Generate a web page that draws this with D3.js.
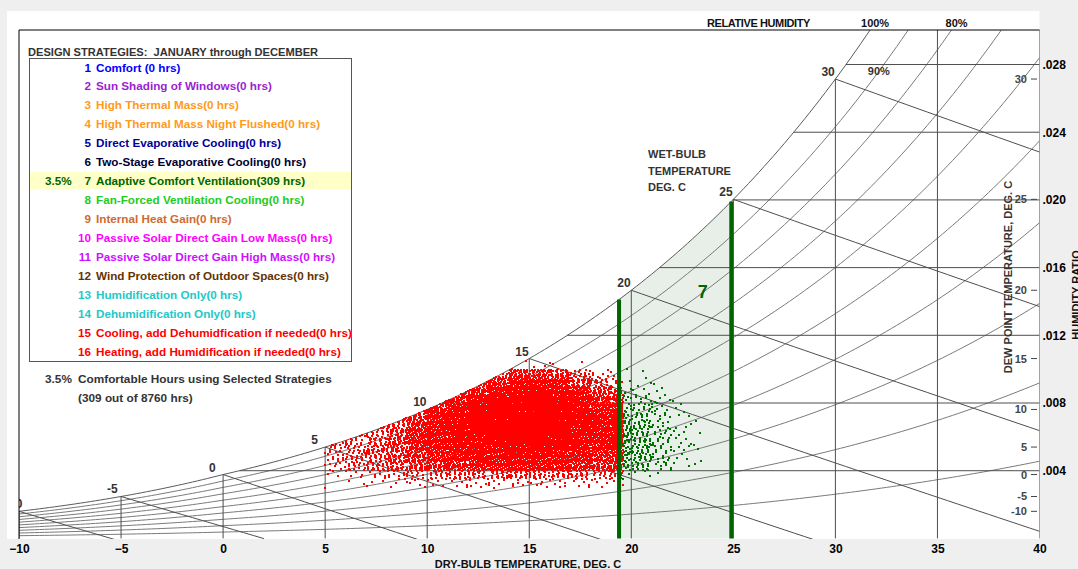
<!DOCTYPE html>
<html>
<head>
<meta charset="utf-8">
<script src="https://cdn.jsdelivr.net/npm/d3@7"></script>
<style>
  html, body { margin: 0; padding: 0; background: #efefef; }
  svg { display: block; font-family: "Liberation Sans", Arial, sans-serif; font-weight: bold; }
  text { white-space: pre; }
</style>
</head>
<body>
<svg id="chart" width="1078" height="569"></svg>
<script>
// ---------------- data ----------------
const strategyNames = [
  "Comfort ", "Sun Shading of Windows", "High Thermal Mass", "High Thermal Mass Night Flushed",
  "Direct Evaporative Cooling", "Two-Stage Evaporative Cooling", "Adaptive Comfort Ventilation",
  "Fan-Forced Ventilation Cooling", "Internal Heat Gain", "Passive Solar Direct Gain Low Mass",
  "Passive Solar Direct Gain High Mass", "Wind Protection of Outdoor Spaces", "Humidification Only",
  "Dehumidification Only", "Cooling, add Dehumidfication if needed", "Heating, add Humidification if needed"
];
const strategyHours = [0, 0, 0, 0, 0, 0, 309, 0, 0, 0, 0, 0, 0, 0, 0, 0];
const strategyColors = [
  "#0000ff", "#9b1fd0", "#ff9a1a", "#ff9a1a", "#00009c", "#000033", "#006600", "#22cc22",
  "#d06a30", "#ff00ff", "#cc11ff", "#663300", "#22c8c8", "#22c8c8", "#ff0000", "#ff0000"
];
const totalHours = 8760;
const periodLabel = "JANUARY through DECEMBER";

const dryBulbTicks = [-10, -5, 0, 5, 10, 15, 20, 25, 30, 35, 40];
const humidityRatioTicks = [0.004, 0.008, 0.012, 0.016, 0.020, 0.024, 0.028];
const dewPointTicks = [30, 25, 20, 15, 10, 5, 0, -5, -10];
const wetBulbTicks = [-10, -5, 0, 5, 10, 15, 20, 25, 30];
const rhCurves = [10, 20, 30, 40, 50, 60, 70, 80, 90, 100];
const rhTopLabels = [100, 80];

// dry-bulb limits (deg C) of zone 7, Adaptive Comfort Ventilation
const zone7Limits = [19.4, 24.9];

// hourly weather data binned by dry-bulb (edges, deg C) and humidity ratio (bin starts, step 0.0005)
const binStep = 0.0005;
const redTempEdges = [5, 6, 7, 8, 9, 10, 11, 12, 13, 14, 15, 16, 17, 18, 19, 19.6];
const redHumidityBins = [0.0030, 0.0035, 0.0040, 0.0045, 0.0050, 0.0055, 0.0060, 0.0065,
                         0.0070, 0.0075, 0.0080, 0.0085, 0.0090, 0.0095, 0.0100];
// hours outside every selected strategy, one row per dry-bulb bin
const redHours = [
  [1, 3, 8, 10, 10, 5, 0, 0, 0, 0, 0, 0, 0, 0, 0],
  [2, 5, 14, 16, 16, 14, 3, 0, 0, 0, 0, 0, 0, 0, 0],
  [3, 7, 18, 22, 24, 22, 16, 3, 0, 0, 0, 0, 0, 0, 0],
  [3, 10, 24, 30, 32, 32, 30, 20, 4, 0, 0, 0, 0, 0, 0],
  [4, 12, 30, 38, 44, 48, 48, 42, 28, 6, 0, 0, 0, 0, 0],
  [4, 16, 38, 48, 56, 64, 70, 68, 60, 40, 8, 0, 0, 0, 0],
  [5, 18, 44, 56, 66, 76, 84, 86, 80, 66, 40, 8, 0, 0, 0],
  [5, 20, 48, 60, 72, 84, 98, 102, 100, 90, 74, 40, 8, 0, 0],
  [6, 22, 50, 64, 78, 96, 108, 114, 114, 108, 94, 74, 40, 8, 0],
  [6, 22, 52, 68, 86, 100, 112, 118, 120, 116, 104, 90, 64, 40, 2],
  [6, 22, 52, 68, 86, 100, 110, 116, 118, 114, 102, 90, 64, 38, 3],
  [6, 20, 48, 62, 80, 92, 104, 108, 108, 102, 92, 74, 52, 30, 2],
  [5, 18, 44, 56, 66, 82, 88, 90, 88, 82, 68, 50, 32, 18, 1],
  [4, 14, 36, 46, 54, 60, 64, 64, 60, 54, 44, 32, 18, 6, 0],
  [3, 10, 26, 32, 38, 42, 44, 42, 38, 32, 24, 14, 6, 2, 0]
];
const greenTempEdges = [19.6, 20, 21, 22, 23, 23.5];
const greenHumidityBins = [0.0035, 0.0040, 0.0045, 0.0050, 0.0055, 0.0060, 0.0065,
                           0.0070, 0.0075, 0.0080, 0.0085, 0.0090, 0.0095];
// hours made comfortable by zone 7
const greenHours = [
  [2, 7, 8, 8, 8, 8, 7, 6, 5, 3, 2, 1, 1],
  [3, 15, 17, 18, 17, 16, 15, 13, 11, 8, 4, 2, 1],
  [1, 7, 9, 9, 9, 9, 8, 7, 6, 4, 2, 1, 0],
  [0, 2, 3, 4, 4, 3, 3, 3, 2, 1, 0, 0, 0],
  [0, 1, 1, 1, 1, 1, 1, 0, 0, 0, 0, 0, 0]
];

// ---------------- psychrometrics (sea-level pressure, kPa) ----------------
const P = 101.325;
function pws(t) {
  return t >= 0 ? 0.61094 * Math.exp(17.625 * t / (t + 243.04))
                : 0.61115 * Math.exp(22.452 * t / (t + 272.55));
}
function wAtRh(t, rh) { const p = rh * pws(t); return 0.622 * p / (P - p); }
function wSat(t) { return wAtRh(t, 1); }
function dewPoint(w) {
  const pw = w * P / (0.622 + w);
  if (pw >= 0.61094) { const a = Math.log(pw / 0.61094); return 243.04 * a / (17.625 - a); }
  const a = Math.log(pw / 0.61115); return 272.55 * a / (22.452 - a);
}
function wOnWetBulb(twb, t) {
  const ws = wSat(twb);
  if (twb >= 0) return ((2501 - 2.326 * twb) * ws - 1.006 * (t - twb)) / (2501 + 1.86 * t - 4.186 * twb);
  return ((2830 - 0.24 * twb) * ws - 1.006 * (t - twb)) / (2830 + 1.86 * t - 2.1 * twb);
}
// dry-bulb at which a relative-humidity curve reaches a given humidity ratio
function tAtRhW(rh, w) {
  return d3.range(-10, 45, 0.01).find(t => wAtRh(t, rh) >= w);
}

// ---------------- layout ----------------
const svg = d3.select("#chart");
const plotLeft = 19, plotRight = 1039.5, plotTop = 30, plotBottom = 538.4;
const x = d3.scaleLinear().domain([-10, 40]).range([plotLeft, plotRight]);
const y = d3.scaleLinear().domain([0, 0.03004]).range([plotBottom, plotTop]);
const wTop = y.domain()[1];

svg.append("rect").attr("width", 1078).attr("height", 569).attr("fill", "#efefef");
svg.append("rect").attr("x", 7).attr("y", 11).attr("width", plotRight - 7).attr("height", plotBottom + 0.6 - 11).attr("fill", "#ffffff");

svg.append("clipPath").attr("id", "plotClip")
  .append("rect").attr("x", plotLeft).attr("y", plotTop).attr("width", plotRight - plotLeft).attr("height", plotBottom - plotTop + 0.6);
const plot = svg.append("g").attr("clip-path", "url(#plotClip)");

const line = d3.line().x(d => x(d[0])).y(d => y(d[1]));

// zone 7 shading, bounded above by the saturation curve
const zoneTs = d3.range(zone7Limits[0], zone7Limits[1], 0.1);
const zonePoly = [[zone7Limits[0], 0], ...zoneTs.map(t => [t, wSat(t)]),
                  [zone7Limits[1], wSat(zone7Limits[1])], [zone7Limits[1], 0]];
plot.append("path").attr("d", line(zonePoly) + "Z").attr("fill", "#e8efe8");

// relative humidity curves
const tSamples = d3.range(-10, 40.001, 0.25);
plot.append("g").selectAll("path").data(rhCurves).join("path")
  .attr("d", rh => line(tSamples.map(t => [t, wAtRh(t, rh / 100)]).filter(p => p[1] <= wTop + 0.004)))
  .attr("fill", "none").attr("stroke", d => d === 100 ? "#5a5a5a" : "#7a7a7a").attr("stroke-width", 1);

// wet-bulb lines
plot.append("g").selectAll("path").data(wetBulbTicks).join("path")
  .attr("d", twb => {
    const pts = [];
    for (let t = twb; t <= 40.001; t += 0.5) {
      const w = wOnWetBulb(twb, t);
      pts.push([t, w]);
      if (w < 0) break;
    }
    return line(pts);
  })
  .attr("fill", "none").attr("stroke", "#4e4e4e").attr("stroke-width", 1);

// dry-bulb verticals up to saturation
plot.append("g").selectAll("line").data(dryBulbTicks).join("line")
  .attr("x1", d => x(d)).attr("x2", d => x(d))
  .attr("y1", y(0)).attr("y2", d => y(Math.min(wSat(d), wTop)))
  .attr("stroke", "#4e4e4e").attr("stroke-width", 1);

// humidity-ratio horizontals from saturation to the right edge
plot.append("g").selectAll("line").data(humidityRatioTicks).join("line")
  .attr("x1", d => x(dewPoint(d))).attr("x2", x(40))
  .attr("y1", d => y(d)).attr("y2", d => y(d))
  .attr("stroke", "#4e4e4e").attr("stroke-width", 1);

// spread each bin's hours over the bin (below saturation) as 2px dots
function binDots(tEdges, wBins, hours) {
  const pts = [];
  const a1 = 0.7548776662466927, a2 = 0.5698402909980532;
  hours.forEach((row, ci) => {
    row.forEach((n, ri) => {
      if (!n) return;
      const w0 = wBins[ri], w1 = w0 + binStep;
      const t0 = Math.max(tEdges[ci], dewPoint(w0) + 0.02), t1 = tEdges[ci + 1];
      if (t0 >= t1) return;
      const seed = ci * 31 + ri;
      const s1 = (seed * 0.6180339887) % 1, s2 = (seed * 0.4142135623) % 1;
      for (let k = 0; k < n; k++) {
        const u = (s1 + k * a1) % 1, v = (s2 + k * a2) % 1;
        const t = t0 + u * (t1 - t0);
        const wt = Math.min(w1, wSat(t));
        pts.push({ t, w: w0 + v * (wt - w0) });
      }
    });
  });
  return pts;
}
const redDots = binDots(redTempEdges, redHumidityBins, redHours);
const greenDots = binDots(greenTempEdges, greenHumidityBins, greenHours);

plot.append("g").attr("fill", "#ff0000").selectAll("rect").data(redDots).join("rect")
  .attr("x", d => Math.round(x(d.t)) - 1).attr("y", d => Math.round(y(d.w)) - 1)
  .attr("width", 2).attr("height", 2);
plot.append("g").attr("fill", "#007000").selectAll("rect").data(greenDots).join("rect")
  .attr("x", d => Math.round(x(d.t)) - 1).attr("y", d => Math.round(y(d.w)) - 1)
  .attr("width", 2).attr("height", 2);

// zone 7 boundaries
plot.append("g").selectAll("line").data(zone7Limits).join("line")
  .attr("x1", d => x(d)).attr("x2", d => x(d))
  .attr("y1", y(0)).attr("y2", d => y(wSat(d)))
  .attr("stroke", "#006400").attr("stroke-width", 4);
plot.append("text").attr("x", x(23.5)).attr("y", y(0.0142)).attr("text-anchor", "middle")
  .attr("font-size", 18).attr("fill", "#006600").text("7");

// wet-bulb labels at the saturation curve
plot.append("g").selectAll("text").data(wetBulbTicks).join("text")
  .attr("x", d => x(d) - 14).attr("y", d => y(wSat(d)) - 3)
  .attr("font-size", 12).attr("fill", "#333").text(d => d);

// 90% label sitting on its curve
const w90 = 0.0276;
plot.append("text").attr("x", x(tAtRhW(0.9, w90))).attr("y", y(w90) + 4)
  .attr("font-size", 11).attr("fill", "#333").attr("text-anchor", "middle").text("90%");

// plot frame (top and left)
svg.append("line").attr("x1", plotLeft).attr("x2", plotRight).attr("y1", plotTop).attr("y2", plotTop).attr("stroke", "#000");
svg.append("line").attr("x1", plotLeft).attr("x2", plotLeft).attr("y1", plotTop).attr("y2", plotBottom + 0.6).attr("stroke", "#000");

// relative humidity header
svg.append("text").attr("x", 707).attr("y", 27).attr("font-size", 11).attr("letter-spacing", -0.4)
  .attr("fill", "#111").text("RELATIVE HUMIDITY");
svg.append("g").selectAll("text").data(rhTopLabels).join("text")
  .attr("x", rh => x(tAtRhW(rh / 100, wTop)) + 5)
  .attr("y", 27).attr("font-size", 11).attr("text-anchor", "middle").attr("fill", "#111")
  .text(rh => rh + "%");

// wet-bulb title
svg.append("g").selectAll("text").data(["WET-BULB", "TEMPERATURE", "DEG. C"]).join("text")
  .attr("x", 648).attr("y", (d, i) => 158 + i * 16.5).attr("font-size", 11).attr("fill", "#333").text(d => d);

// dry-bulb axis
const xAxis = svg.append("g").attr("transform", `translate(0,${plotBottom})`)
  .call(d3.axisBottom(x).tickValues(dryBulbTicks).tickSize(0).tickPadding(6));
xAxis.select(".domain").remove();
xAxis.selectAll("text").attr("font-size", 12).attr("font-weight", "bold").attr("fill", "#000")
  .attr("font-family", "Liberation Sans, Arial, sans-serif");
svg.append("text").attr("x", 528).attr("y", 568).attr("text-anchor", "middle").attr("font-size", 11)
  .attr("fill", "#111").text("DRY-BULB TEMPERATURE, DEG. C");

// humidity ratio axis
const yAxis = svg.append("g").attr("transform", `translate(${plotRight},0)`)
  .call(d3.axisRight(y).tickValues(humidityRatioTicks).tickSize(0).tickPadding(3)
    .tickFormat(d => d3.format(".3f")(d).replace(/^0/, "")));
yAxis.select(".domain").remove();
yAxis.selectAll("text").attr("font-size", 12).attr("font-weight", "bold").attr("fill", "#000")
  .attr("font-family", "Liberation Sans, Arial, sans-serif");
svg.append("text").attr("transform", "translate(1080,295) rotate(-90)").attr("text-anchor", "middle")
  .attr("font-size", 11).attr("fill", "#111").text("HUMIDITY RATIO");

// dew-point scale along the right edge
const dp = svg.append("g");
dp.selectAll("line").data(dewPointTicks).join("line")
  .attr("x1", 1031).attr("x2", 1037).attr("y1", d => y(wSat(d))).attr("y2", d => y(wSat(d)))
  .attr("stroke", "#444");
dp.selectAll("text").data(dewPointTicks).join("text")
  .attr("x", 1027).attr("y", d => y(wSat(d)) + 4).attr("text-anchor", "end")
  .attr("font-size", 11).attr("fill", "#444").text(d => d);
svg.append("text").attr("transform", "translate(1012,277) rotate(-90)").attr("text-anchor", "middle")
  .attr("font-size", 11).attr("fill", "#333").text("DEW POINT TEMPERATURE, DEG. C");

// strategy legend
const legend = svg.append("g");
legend.append("text").attr("x", 28).attr("y", 56).attr("font-size", 11.1).attr("fill", "#333")
  .text("DESIGN STRATEGIES:  " + periodLabel);
legend.append("rect").attr("x", 29.5).attr("y", 58.5).attr("width", 322).attr("height", 303)
  .attr("fill", "#fff").attr("stroke", "#555");
const rowY = i => 67 + i * 18.95;
const pct = h => (h / totalHours * 100).toFixed(1) + "%";
const legendRows = strategyNames.map((name, i) => ({ name, i, hours: strategyHours[i], color: strategyColors[i] }));
legend.selectAll("rect.hl").data(legendRows.filter(d => d.hours > 0)).join("rect")
  .attr("class", "hl").attr("x", 30).attr("y", d => rowY(d.i) - 9).attr("width", 321).attr("height", 18)
  .attr("fill", "#ffffc8");
const rows = legend.selectAll("g.row").data(legendRows).join("g").attr("class", "row")
  .attr("fill", d => d.color).attr("font-size", 11.7);
rows.append("text").attr("x", 91).attr("y", d => rowY(d.i) + 4.5).attr("text-anchor", "end").text(d => d.i + 1);
rows.append("text").attr("x", 96).attr("y", d => rowY(d.i) + 4.5).text(d => `${d.name}(${d.hours} hrs)`);
rows.filter(d => d.hours > 0).append("text").attr("x", 45).attr("y", d => rowY(d.i) + 4.5).text(d => pct(d.hours));

const comfortHours = d3.sum(strategyHours);
legend.append("text").attr("x", 45).attr("y", 383).attr("font-size", 11.8).attr("fill", "#333").text(pct(comfortHours));
legend.append("text").attr("x", 78).attr("y", 383).attr("font-size", 11.8).attr("fill", "#333")
  .text("Comfortable Hours using Selected Strategies");
legend.append("text").attr("x", 78).attr("y", 402).attr("font-size", 11.8).attr("fill", "#333")
  .text(`(${comfortHours} out of ${totalHours} hrs)`);
</script>
</body>
</html>
